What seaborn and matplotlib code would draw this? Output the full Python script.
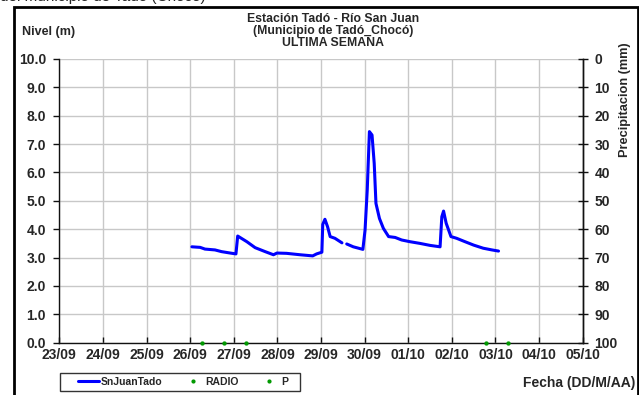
import numpy as np
import pandas as pd
import matplotlib
matplotlib.use("Agg")
import matplotlib.pyplot as plt
from matplotlib.lines import Line2D
from matplotlib.patches import Rectangle
import seaborn as sns

# ---- data (days since 23/09) ----
date_labels = ["23/09", "24/09", "25/09", "26/09", "27/09", "28/09", "29/09",
               "30/09", "01/10", "02/10", "03/10", "04/10", "05/10"]
precip_ticks = [0, 10, 20, 30, 40, 50, 60, 70, 80, 90, 100]

seg1_day = [3.04, 3.23, 3.34, 3.57, 3.72, 3.92, 4.05, 4.09, 4.30, 4.49, 4.72,
            4.91, 4.99, 5.21, 5.52, 5.81, 5.90, 6.02, 6.04, 6.09, 6.15, 6.21,
            6.32, 6.48]
seg1_lvl = [3.38, 3.36, 3.30, 3.27, 3.21, 3.16, 3.13, 3.76, 3.56, 3.35, 3.21,
            3.10, 3.16, 3.15, 3.10, 3.06, 3.13, 3.19, 4.17, 4.35, 4.09, 3.74,
            3.68, 3.52]
seg2_day = [6.59, 6.74, 6.96, 7.01, 7.06, 7.11, 7.17, 7.22, 7.26, 7.34, 7.43,
            7.55, 7.70, 7.85, 8.04, 8.27, 8.50, 8.73, 8.77, 8.81, 8.87, 8.98,
            9.11, 9.27, 9.50, 9.72, 9.92, 10.07]
seg2_lvl = [3.48, 3.38, 3.29, 3.97, 5.38, 7.44, 7.32, 6.32, 4.91, 4.38, 4.03,
            3.74, 3.71, 3.62, 3.56, 3.50, 3.43, 3.38, 4.44, 4.64, 4.21, 3.74,
            3.68, 3.58, 3.44, 3.33, 3.27, 3.23]
radio_day = [3.28, 3.78, 4.28]
radio_val = [0.0, 0.0, 0.0]
p_day = [9.78, 10.28]
p_val = [0.0, 0.0]

df = pd.DataFrame({
    "dia": seg1_day + seg2_day,
    "nivel": seg1_lvl + seg2_lvl,
    "tramo": ["a"] * len(seg1_day) + ["b"] * len(seg2_day),
})

sns.set_theme(style="white")
plt.rcParams["font.family"] = ["Liberation Sans", "DejaVu Sans"]
plt.rcParams["font.weight"] = "bold"

W, H = 639, 395
fig = plt.figure(figsize=(W / 100, H / 100), dpi=100)
fig.patch.set_facecolor("white")
ax = fig.add_axes([59.3 / W, 1 - 342.7 / H, (582.7 - 59.3) / W, (342.7 - 59.0) / H])
ax.set_facecolor("white")

blue = "#0000ff"
green = "#009900"
TICK_FS = 10

sns.lineplot(data=df, x="dia", y="nivel", units="tramo", estimator=None,
             color=blue, linewidth=2.2, ax=ax, legend=False, zorder=4)
sns.scatterplot(x=radio_day, y=radio_val, color=green, s=8, edgecolor=green,
                ax=ax, zorder=5, clip_on=False)
sns.scatterplot(x=p_day, y=p_val, color=green, s=8, edgecolor=green,
                ax=ax, zorder=5, clip_on=False)

ax.set_xlim(0, 12)
ax.set_ylim(0, 10)
ax.set_xticks(range(len(date_labels)))
ax.set_xticklabels(date_labels, fontsize=TICK_FS, fontweight="bold")
ax.set_yticks(np.arange(0, 10.01, 1.0))
ax.set_yticklabels([f"{v:.1f}" for v in np.arange(0, 10.01, 1.0)],
                   fontsize=TICK_FS, fontweight="bold")
ax.set_xlabel("")
ax.set_ylabel("")
ax.grid(True, color="#c8c8c8", linewidth=1.0)
ax.set_axisbelow(True)
ax.spines["top"].set_visible(False)
for s in ["left", "bottom", "right"]:
    ax.spines[s].set_color("#111111")
    ax.spines[s].set_linewidth(1.0)
ax.tick_params(axis="y", direction="out", length=4, width=1, color="#111111",
               pad=5.5, left=True)
ax.tick_params(axis="x", direction="in", length=4, width=1, color="#111111",
               pad=4, bottom=True)

ax2 = ax.twinx()
ax2.set_ylim(100, 0)
ax2.set_yticks(precip_ticks)
ax2.set_yticklabels([str(v) for v in precip_ticks], fontsize=TICK_FS, fontweight="bold")
ax2.tick_params(axis="y", direction="inout", length=7, width=1, color="#111111",
                pad=5, right=True)
ax2.grid(False)
for s in ["top", "left", "bottom"]:
    ax2.spines[s].set_visible(False)
ax2.spines["right"].set_color("#111111")
ax2.spines["right"].set_linewidth(1.0)

# titles and labels
fig.text(333 / W, 1 - 19.5 / H, "Estación Tadó - Río San Juan", ha="center",
         va="center", fontsize=8.8, fontweight="bold")
fig.text(333 / W, 1 - 31 / H, "(Municipio de Tadó_Chocó)", ha="center",
         va="center", fontsize=8.8, fontweight="bold")
fig.text(333 / W, 1 - 42.5 / H, "ULTIMA SEMANA", ha="center",
         va="center", fontsize=8.8, fontweight="bold")
fig.text(22 / W, 1 - 32 / H, "Nivel (m)", ha="left", va="center",
         fontsize=9, fontweight="bold")
fig.text(625 / W, 1 - 100 / H, "Precipitacion (mm)", ha="center", va="center",
         rotation=90, fontsize=9.2, fontweight="bold")
fig.text(635 / W, 1 - 383 / H, "Fecha (DD/M/AA)", ha="right", va="center",
         fontsize=10, fontweight="bold")

# clipped header text above the frame
fig.text(0, 1 - 1 / H, "del municipio de Tadó (Chocó)", ha="left",
         va="baseline", fontsize=11, fontweight="normal")

# outer frame
fig.patches.append(Rectangle((14 / W, -0.02), (637.5 - 14) / W, 1.02 - 7 / H,
                             transform=fig.transFigure, fill=False,
                             edgecolor="black", linewidth=2.0))

# legend box
fig.patches.append(Rectangle((60 / W, 1 - 391 / H), 240 / W, 18 / H,
                             transform=fig.transFigure, fill=True,
                             facecolor="white", edgecolor="#333333",
                             linewidth=1.0, zorder=3))
handles = [Line2D([0], [0], color=blue, lw=2.2),
           Line2D([0], [0], color=green, marker="o", ls="", markersize=2),
           Line2D([0], [0], color=green, marker="o", ls="", markersize=2)]
leg = fig.legend(handles, ["SnJuanTado", "RADIO", "P"], ncol=3,
                 loc="center left", bbox_to_anchor=(78 / W, 1 - 382 / H),
                 frameon=False, prop={"weight": "bold", "size": 7.5},
                 handlelength=2, borderpad=0, handletextpad=0.2,
                 borderaxespad=0, columnspacing=1.9)
leg.set_zorder(4)

fig.savefig("out.png", dpi=100, facecolor="white")
